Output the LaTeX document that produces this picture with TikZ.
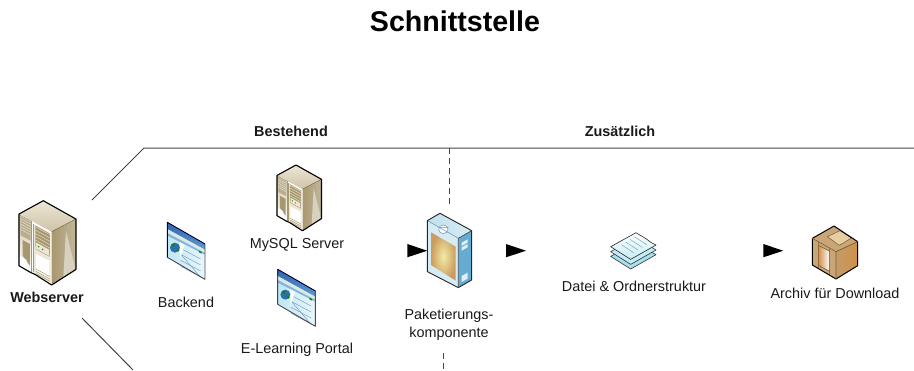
\documentclass[tikz,border=0pt]{standalone}
\usepackage{fontspec}
\setmainfont{Liberation Sans}
\definecolor{lineg}{HTML}{444444}
\definecolor{beige}{HTML}{CFC3A6}
\definecolor{tan}{HTML}{A89870}
\definecolor{tanl}{HTML}{EDE6D6}
\definecolor{webhead}{HTML}{2F66AE}
\definecolor{webhead2}{HTML}{5C9AD0}
\definecolor{webbar}{HTML}{DCE8E8}
\definecolor{webbar2}{HTML}{7FB4DC}
\definecolor{webbody}{HTML}{BFE6F6}
\definecolor{webbody2}{HTML}{EAF7FC}
\definecolor{webline}{HTML}{6C94B4}
\definecolor{globe}{HTML}{2F6FA8}
\definecolor{pkgtop}{HTML}{BFE0EC}
\definecolor{pkgfront}{HTML}{D6ECF4}
\definecolor{pkgside}{HTML}{66ABD2}
\definecolor{pkgin}{HTML}{F2EBA6}
\definecolor{pkgout}{HTML}{CC9C5E}
\definecolor{doclo}{HTML}{A6E0EE}
\definecolor{docmid}{HTML}{C4ECF4}
\definecolor{crbeam}{HTML}{C9A677}
\definecolor{crtop}{HTML}{E6CDA2}
\definecolor{crside}{HTML}{D0914A}
\definecolor{crside2}{HTML}{C49A68}
\definecolor{crline}{HTML}{7A5A30}
\tikzset{
  x=1pt,y=-1pt,
  lbl/.style={font=\fontsize{14.4}{18}\selectfont,inner sep=0pt,align=center,text=black!90},
  blbl/.style={lbl,font=\fontsize{14.4}{18}\selectfont\bfseries},
  rule/.style={draw=lineg,line width=1pt},
  ruled/.style={rule,dash pattern=on 6pt off 4pt},
  tip/.style={fill=black,draw=none},
  icon/.style={x=1pt/3,y=-1pt/3},
  outl/.style={draw=black,line width=1pt,line join=round},
  servericon/.pic={
    \begin{scope}[icon]
    \fill[top color=tanl,bottom color=beige] (0,0)--(-73,40)--(25,93)--(98,55)--cycle;
    \fill[left color=tan,right color=tan!70!white] (25,93)--(98,55)--(98,206)--(25,253)--cycle;
    \fill[tan!45!white] (68,90)--(98,210)--(60,232)--cycle;
    \fill[white] (-73,40)--(25,93)--(25,253)--(-37,216)--(-73,195)--cycle;
    \fill[top color=beige,bottom color=white] (-73,42)--(-35,62)--(-35,215)--(-73,195)--cycle;
    \fill[tan!80!white] (-68,48)--(-38,64)--(-38,120)--(-68,104)--cycle;
    \fill[tan] (-62,118)--(-40,130)--(-40,195)--(-62,165)--cycle;
    \fill[white] (-73,165)--(-50,178)--(-50,206)--(-73,195)--cycle;
    \fill[tanl] (-30,70)--(22,98)--(22,247)--(-30,215)--cycle;
    \fill[white] (-22,160)--(18,180)--(18,235)--(-22,210)--cycle;
    \fill[tan] (-24,74)--(20,99)--(20,160)--(-24,136)--cycle;
    \foreach \k in {0,10,20,30,40,50}{\draw[tanl,line width=.4pt] (-24,78+\k)--(20,102+\k);}
    \foreach \k in {0,8,16,24,32}{\draw[tanl,line width=.4pt] (-68,54+\k)--(-38,70+\k);}
    \fill[tanl,draw=tan,line width=.4pt] (-22,124)--(18,146)--(18,167)--(-22,145)--cycle;
    \fill[green!60!black] (-14,138) circle (2.5) (-2,146) circle (2.5);
    \foreach \k in {0,7,14}{\draw[tan,line width=.5pt] (-22,205+\k)--(20,228+\k);}
    \draw[tan,line width=.6pt] (-30,70)--(-30,215) (-35,62)--(-35,215);
    \draw[tan!80!black,line width=.4pt] (25,93)--(98,55);
    \draw[outl,line width=1.1pt] (0,0)--(-73,40)--(-73,195)--(-37,216)--(-25,221)--(25,253)--(98,206)--(98,55)--cycle;
    \end{scope}
  },
  webicon/.pic={
    \begin{scope}[icon]
    \fill[left color=webbody,right color=webbody2] (0,0)--(113,65)--(113,171)--(0,105)--cycle;
    \fill[top color=webhead,bottom color=webhead2] (0,0)--(113,65)--(113,82)--(0,20)--cycle;
    \fill[webbar] (0,20)--(113,82)--(113,92)--(0,32)--cycle;
    \fill[webbar2] (0,32)--(113,92)--(113,97)--(0,40)--cycle;
    \fill[green!50!black] (95,85)--(103,89)--(103,94)--(95,90)--cycle;
    \foreach \k in {0,18,36,54}{\draw[webline,line width=.4pt] (40,78+\k)--(100,110+\k);}
    \draw[webline,line width=.4pt] (40,95)--(100,165);
    \fill[white] (38,60)--(52,68)--(38,110)--cycle;
    \fill[globe] (23,76) circle (15);
    \fill[green!55!black] (18,68) circle (5) (32,84) circle (4);
    \draw[gray!60!black,line width=.9pt,line join=round] (0,105)--(113,171)--(113,65);
    \draw[blue!25!black,line width=.9pt,line join=round] (113,65)--(0,0)--(0,105);
    \end{scope}
  },
  pkgicon/.pic={
    \begin{scope}[icon]
    \fill[left color=pkgtop,right color=pkgfront] (0,0)--(-38,22)--(55,75)--(95,52)--cycle;
    \fill[pkgfront] (-38,22)--(55,75)--(55,223)--(-38,175)--cycle;
    \fill[pkgside] (55,75)--(95,52)--(95,200)--(55,223)--cycle;
    \shade[inner color=pkgin,outer color=pkgout] (-27,57)--(47,100)--(47,202)--(-27,155)--cycle;
    \fill[white,opacity=.8] (65,88)--(83,78)--(83,88)--(65,98)--cycle (65,102)--(83,92)--(83,102)--(65,112)--cycle (65,188)--(83,178)--(83,196)--(65,206)--cycle;
    \filldraw[fill=white,draw=webline,line width=.5pt] (10,48) ellipse (14 and 13);
    \draw[webline,line width=.5pt] (-38,22)--(55,75) (-5,42)--(25,42);
    \draw[outl,draw=black!85,line width=.9pt] (0,0)--(-38,22)--(-38,175)--(55,223)--(95,200)--(95,52)--cycle;
    \draw[black!70,line width=.7pt] (55,75)--(95,52) (55,75)--(55,223);
    \end{scope}
  },
  docicon/.pic={
    \begin{scope}[icon]
    \foreach \d/\c in {29/doclo,15/docmid}{
      \filldraw[fill=\c,draw=black!80,line width=.6pt,line join=round] (0,\d)--(-76,42+\d)--(-16,80+\d)--(60,37+\d)--cycle;
    }
    \filldraw[top color=white,bottom color=docmid,draw=black!80,line width=.6pt,line join=round] (0,0)--(-76,42)--(-16,80)--(60,37)--(46,30)--(30,18)--cycle;
    \foreach \k in {0,1,2,3}{\draw[webline,line width=.4pt] (-5+\k*-13,12+\k*8)--(32+\k*-13,36+\k*8);}
    \end{scope}
  },
  crateicon/.pic={
    \begin{scope}[icon]
    \fill[crbeam] (0,0)--(-65,37)--(6,77)--(71,47)--cycle;
    \fill[crtop] (-20,32)--(18,14)--(52,36)--(16,58)--cycle;
    \fill[left color=crside2,right color=crside] (6,77)--(71,47)--(71,119)--(6,159)--cycle;
    \fill[crbeam] (-65,37)--(6,77)--(6,159)--(-65,117)--cycle;
    \fill[left color=crside,right color=white] (-47,58)--(-13,76)--(-13,136)--(-47,118)--cycle;
    \draw[crline,line width=.5pt] (-47,48)--(-47,128) (-13,68)--(-13,146) (-47,118)--(-13,136) (-47,58)--(-13,76) (-20,32)--(18,14)--(52,36)--(16,58)--cycle;
    \draw[outl] (0,0)--(-65,37)--(-65,117)--(6,159)--(71,119)--(71,47)--cycle;
    \draw[crline,line width=.6pt] (-65,37)--(6,77)--(71,47) (6,77)--(6,159);
    \end{scope}
  },
}
\begin{document}
\begin{tikzpicture}
\useasboundingbox (0,0) rectangle (914,370);
\coordinate (topL) at (144,148);
\coordinate (topR) at (914,148);
\coordinate (upS) at (92,200);
\coordinate (lowS) at (82,318);
\coordinate (lowE) at (133,370);
\coordinate (dashT) at (449,148);
\coordinate (dashU) at (449,207);
\coordinate (dashL) at (443,353);
\coordinate (dashB) at (443,370);
\draw[rule] (upS) -- (topL) -- (topR);
\draw[rule] (lowS) -- (lowE);
\draw[ruled] (dashT) -- (dashU);
\draw[ruled] (dashL) -- (dashB);
\pic at (43.3,200.7) {servericon};
\begin{scope}[shift={(296,165)},scale=.78]\pic[transform shape] {servericon};\end{scope}
\pic at (167.3,222.3) {webicon};
\pic at (277.7,269.3) {webicon};
\pic at (440,213.3) {pkgicon};
\pic at (636,232.7) {docicon};
\pic at (834,226) {crateicon};
\fill[tip] (407.3,244) -- (427.3,250.7) -- (407.3,257.3) -- cycle;
\fill[tip] (506,244) -- (526,250.7) -- (506,257.3) -- cycle;
\fill[tip] (763.3,244) -- (783.3,250.7) -- (763.3,257.3) -- cycle;
\node[font=\fontsize{28.6}{32}\selectfont\bfseries,inner sep=0pt] (title) at (455,21) {Schnittstelle};
\node[blbl] (best) at (291,131) {Bestehend};
\node[blbl] (zus) at (620,131) {Zusätzlich};
\node[blbl] (web) at (47,297) {Webserver};
\node[lbl] (back) at (186,302) {Backend};
\node[lbl] (mysql) at (297,245) {MySQL Server};
\node[lbl] (portal) at (297,350) {E-Learning Portal};
\node[lbl] (pak) at (449,325) {Paketierungs-\\komponente};
\node[lbl] (datei) at (634,286) {Datei \& Ordnerstruktur};
\node[lbl] (archiv) at (835,293) {Archiv für Download};
\end{tikzpicture}
\end{document}
